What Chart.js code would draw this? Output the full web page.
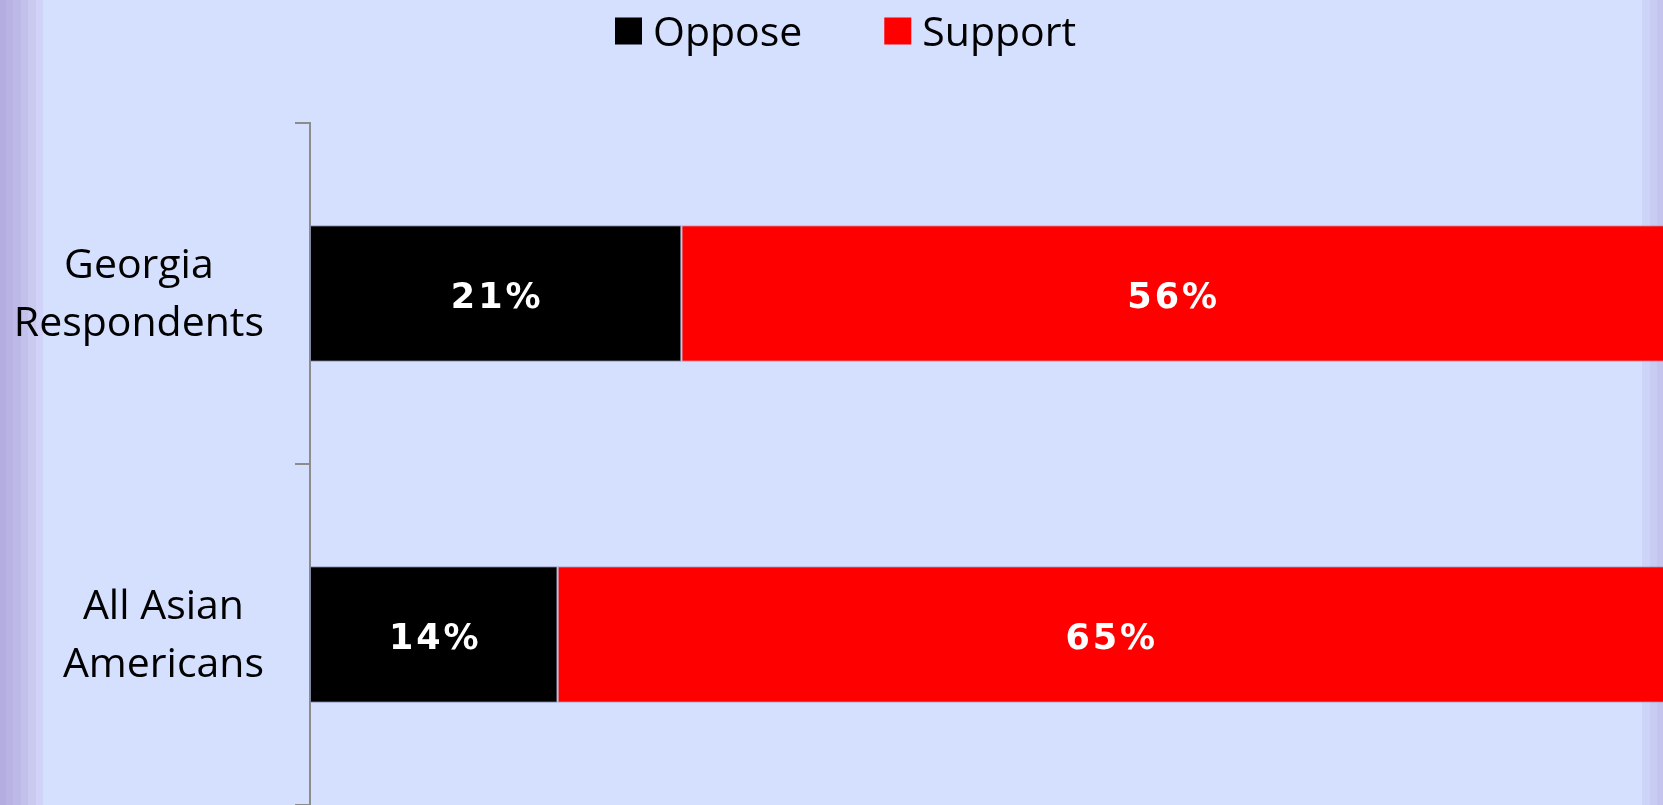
<!DOCTYPE html>
<html>
<head>
<meta charset="utf-8">
<script src="https://cdn.jsdelivr.net/npm/chart.js@4/dist/chart.umd.min.js"></script>
<style>
  html, body { margin: 0; padding: 0; }
  body {
    width: 1663px; height: 805px; overflow: hidden;
    background: linear-gradient(to right,
      #B3AEDF 0px, #B3AEDF 6px,
      #B8B3E2 6px, #B8B3E2 13px,
      #BDB9E6 13px, #BDB9E6 21px,
      #C3C1EB 21px, #C3C1EB 28px,
      #CAC9F0 28px, #CAC9F0 36px,
      #D0D3F7 36px, #D0D3F7 43px,
      #D5DFFE 43px, #D5DFFE 1642px,
      #CDD4F8 1642px, #CDD4F8 1650px,
      #C8CBF2 1650px, #C8CBF2 1657px,
      #C4C4EE 1657px, #C4C4EE 1663px);
  }
  #wrap { position: absolute; left: 0; top: 0; width: 1663px; height: 805px; }
</style>
</head>
<body>
<div id="wrap"><canvas id="c" width="1663" height="805"></canvas></div>
<script>
// ---- data ----
const categories = [["Georgia", "Respondents"], ["All Asian", "Americans"]];
const seriesNames = ["Oppose", "Support"];
const opposeValues = [21, 14];
const supportValues = [56, 65];
const seriesColors = ["#000000", "#FF0000"];

const LABEL_FONT = '"Open Sans", "Noto Sans", sans-serif';
const VALUE_FONT = '"DejaVu Sans", Verdana, sans-serif';

// category labels: each block right-aligned, lines centred within the block
const categoryLabelPlugin = {
  id: 'categoryLabels',
  afterDraw(chart) {
    const ctx = chart.ctx;
    const y = chart.scales.y;
    const right = chart.chartArea.left - 46;
    ctx.save();
    ctx.font = '41px ' + LABEL_FONT;
    ctx.fillStyle = '#000';
    ctx.textAlign = 'center';
    ctx.textBaseline = 'alphabetic';
    chart.data.labels.forEach((lines, i) => {
      const cy = y.getPixelForValue(i);
      const w = Math.max(...lines.map(l => ctx.measureText(l).width));
      const cx = right - w / 2;
      const lh = 58;
      const first = cy - 15.5 - (lines.length - 2) * lh / 2;
      lines.forEach((l, k) => ctx.fillText(l, cx, first + k * lh));
    });
    ctx.restore();
  }
};

// value labels centred in the visible part of each bar segment
const valueLabelPlugin = {
  id: 'valueLabels',
  afterDatasetsDraw(chart) {
    const ctx = chart.ctx;
    const area = chart.chartArea;
    ctx.save();
    ctx.font = 'bold 35px ' + VALUE_FONT;
    ctx.fillStyle = '#FFFFFF';
    ctx.textAlign = 'center';
    ctx.textBaseline = 'alphabetic';
    const ls = 3;
    if ('letterSpacing' in ctx) ctx.letterSpacing = ls + 'px';
    chart.data.datasets.forEach((ds, di) => {
      const meta = chart.getDatasetMeta(di);
      meta.data.forEach((bar, i) => {
        const p = bar.getProps(['x', 'y', 'base'], true);
        const x0 = Math.max(Math.min(p.x, p.base), area.left);
        const x1 = Math.min(Math.max(p.x, p.base), area.right);
        const cx = (x0 + x1) / 2 + ls / 2;
        ctx.fillText(Math.round(ds.data[i]) + '%', cx, p.y + 14.5);
      });
    });
    ctx.restore();
  }
};

// legend drawn from dataset names and colours
const legendPlugin = {
  id: 'customLegend',
  afterDraw(chart) {
    const ctx = chart.ctx;
    ctx.save();
    ctx.font = '41px ' + LABEL_FONT;
    ctx.textBaseline = 'alphabetic';
    ctx.textAlign = 'left';
    let x = 615;
    const box = 27, gap = 11, itemGap = 82;
    chart.data.datasets.forEach(ds => {
      ctx.fillStyle = ds.backgroundColor;
      ctx.fillRect(x, 17.5, box, box);
      ctx.fillStyle = '#000';
      ctx.fillText(ds.label, x + box + gap, 45.5);
      x += box + gap + ctx.measureText(ds.label).width + itemGap;
    });
    ctx.restore();
  }
};

new Chart(document.getElementById('c'), {
  type: 'bar',
  data: {
    labels: categories,
    datasets: [
      { label: seriesNames[0], data: opposeValues, backgroundColor: seriesColors[0],
        borderColor: 'rgba(120,130,160,0.7)', borderWidth: 1, borderSkipped: false },
      { label: seriesNames[1], data: supportValues, backgroundColor: seriesColors[1],
        borderColor: 'rgba(150,140,170,0.6)', borderWidth: 1, borderSkipped: false }
    ]
  },
  options: {
    indexAxis: 'y',
    responsive: false,
    animation: false,
    events: [],
    layout: { padding: { top: 123, left: 0, right: 0, bottom: 0 } },
    datasets: { bar: { categoryPercentage: 1, barPercentage: 0.4 } },
    plugins: { legend: { display: false }, tooltip: { enabled: false } },
    scales: {
      x: { type: 'linear', stacked: true, display: false, min: 0, max: 76.5 },
      y: {
        type: 'category', stacked: true, offset: true,
        grid: { offset: true, drawOnChartArea: false, drawTicks: true, tickLength: 15,
                color: '#8C8C8C', lineWidth: 2 },
        border: { display: true, color: '#8C8C8C', width: 2 },
        ticks: { display: false },
        afterFit(scale) { scale.width = 310; }
      }
    }
  },
  plugins: [categoryLabelPlugin, valueLabelPlugin, legendPlugin]
});
</script>
</body>
</html>
